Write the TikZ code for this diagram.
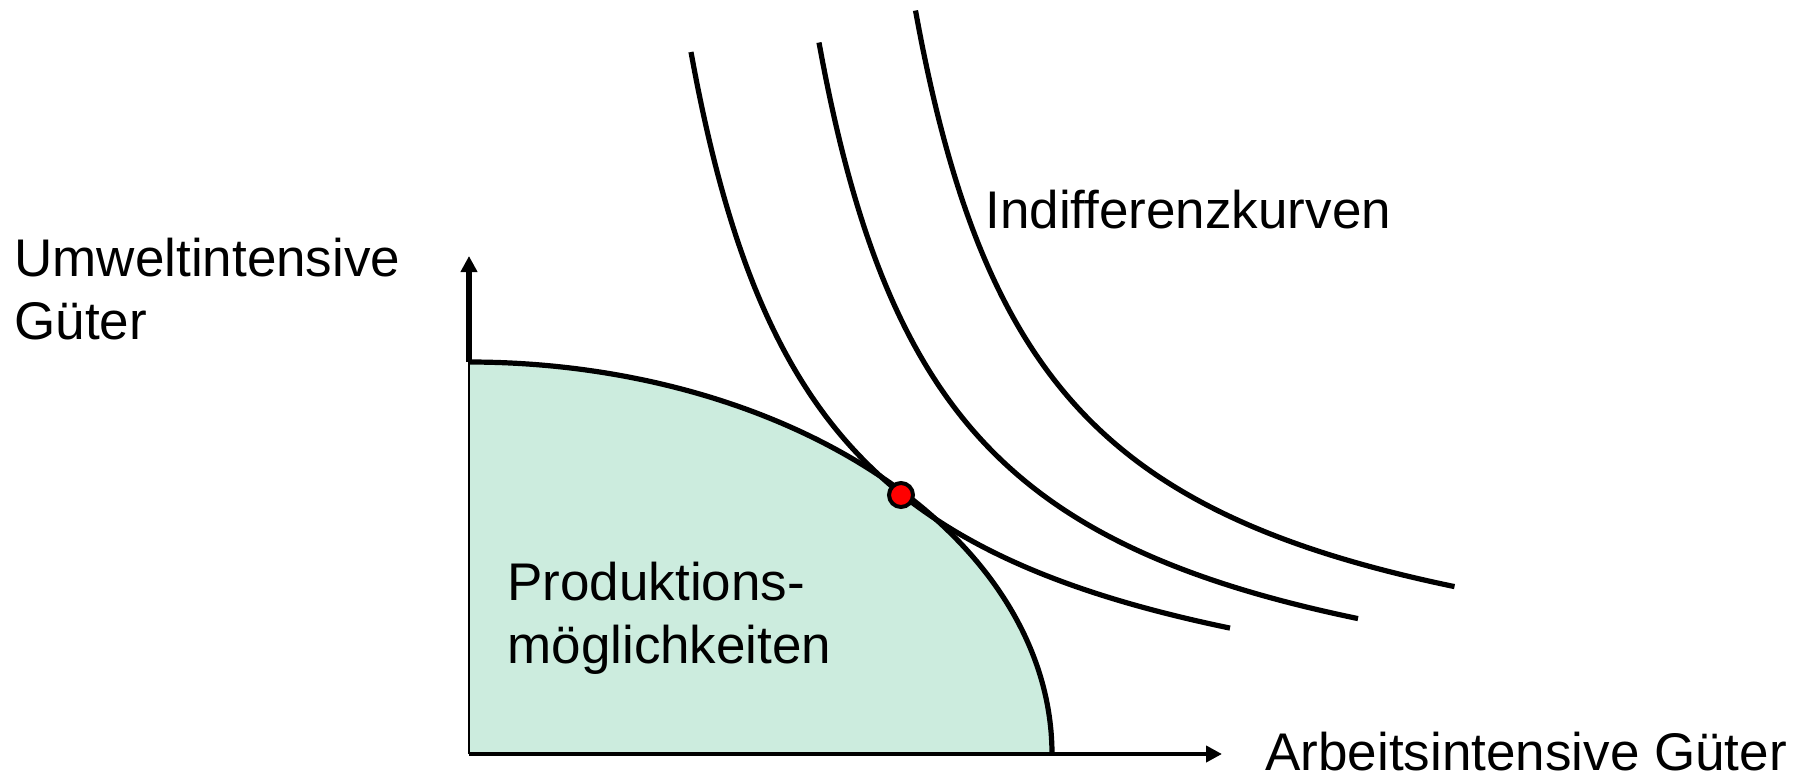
\documentclass[tikz,border=0pt]{standalone}
\usepackage{fontspec}
\setmainfont{Liberation Sans}
\usetikzlibrary{arrows.meta}
\definecolor{ppfgreen}{RGB}{204,236,222}
\definecolor{dotred}{RGB}{255,0,0}
\tikzset{
  icurve/.style={line width=2.6pt, black},
  axisthick/.style={line width=2.6pt, black, -{Triangle[width=8pt,length=8pt]}},
  lbl/.style={inner sep=0pt, font=\fontsize{26.5pt}{31.5pt}\selectfont, align=left},
}
\begin{document}
\begin{tikzpicture}[x=0.5pt,y=-0.5pt]
\useasboundingbox (0,0) rectangle (1806,777);
\coordinate (O) at (469,754);
\coordinate (ytip) at (469,256);
\coordinate (xtip) at (1222,754);
\coordinate (ppfA) at (469,362);
\coordinate (ppfB) at (1052,754);
\coordinate (E) at (901,495);
% production possibilities region
\fill[ppfgreen] (O) -- plot[domain=90:0, samples=90, smooth] ({469+583*cos(\x)}, {754-392*sin(\x)}) -- cycle;
\draw[line width=0.9pt] (O) -- (ppfA);
\draw[line width=2pt] (O) -- (ppfB);
\draw[line width=2.6pt] plot[domain=90:0, samples=90, smooth] ({469+583*cos(\x)}, {754-392*sin(\x)});
% axes
\draw[axisthick] (ppfA) -- (ytip);
\draw[axisthick, line width=2.3pt] (ppfB) -- (xtip);
% indifference curves
\draw[icurve] plot[domain=129.7:668.7, samples=150, smooth] ({561.3+\x}, {766.7-926.94/(\x/100)});
\draw[icurve] plot[domain=129.7:668.7, samples=150, smooth] ({689.3+\x}, {757.2-926.94/(\x/100)});
\draw[icurve] plot[domain=129.7:668.7, samples=150, smooth] ({785.8+\x}, {725.2-926.94/(\x/100)});
% optimum
\node[circle, fill=dotred, draw=black, line width=2pt, minimum size=12pt, inner sep=0pt] (dot) at (E) {};
% labels
\node[lbl, anchor=base west] (ylab) at (14,339) {Umweltintensive\\Güter};
\node[lbl, anchor=base west] (xlab) at (1265,770) {Arbeitsintensive Güter};
\node[lbl, anchor=base west] (iclab) at (985,228) {Indifferenzkurven};
\node[lbl, anchor=base west] (pplab) at (507,663) {Produktions-\\möglichkeiten};
\end{tikzpicture}
\end{document}
